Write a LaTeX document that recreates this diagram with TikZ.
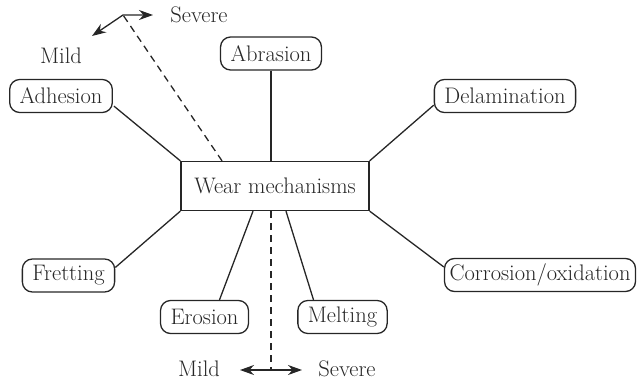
\documentclass[tikz,border=0pt]{standalone}
\usepackage{fontspec}
\usetikzlibrary{arrows.meta}
\begin{document}
\begin{tikzpicture}[x=1pt,y=-1pt,
  every node/.style={font=\fontsize{22.5}{26}\selectfont, text=black!85},
  mech/.style={draw=black!85, line width=1.3pt, rounded corners=10pt, minimum height=33pt, inner xsep=10pt, inner ysep=0pt},
  conn/.style={draw=black!85, line width=1.3pt},
  dsh/.style={draw=black!85, line width=1.3pt, dash pattern=on 7pt off 5pt},
  arr/.style={draw=black!85, line width=1.3pt, {Stealth[length=14pt,width=10pt]}-{Stealth[length=14pt,width=10pt]}}]
\useasboundingbox (0,0) rectangle (639,382);
\node[draw=black!85, line width=1.3pt, minimum width=188pt, minimum height=49pt] (W) at (275,186) {Wear mechanisms};
\node[mech] (Ab) at (271,53.5) {Abrasion};
\node[mech] (Ad) at (61,96) {Adhesion};
\node[mech] (De) at (505,96) {Delamination};
\node[mech] (Fr) at (68.5,275.5) {Fretting};
\node[mech] (Er) at (204.5,317) {Erosion};
\node[mech] (Me) at (342.5,317) {Melting};
\node[mech, inner xsep=5pt] (Co) at (540,275) {Corrosion/oxidation};
\node (mildT) at (61,56) {Mild};
\node (sevT) at (199,15) {Severe};
\node (mildB) at (199,369) {Mild};
\node (sevB) at (347,369) {Severe};
\coordinate (tA) at (92,36);
\coordinate (tB) at (123,15);
\coordinate (tC) at (153,15);
\coordinate (bA) at (240,370);
\coordinate (bB) at (271,370);
\coordinate (bC) at (302,370);
\draw[conn] (Ab.south) -- (Ab.south |- W.north);
\draw[conn] ([yshift=8pt]De.south west) -- (W.north east);
\draw[conn] ([xshift=1pt,yshift=7pt]Ad.south east) -- (W.north west);
\draw[conn] ([yshift=8pt]Fr.east) -- (W.south west);
\draw[conn] ([yshift=8pt]Co.west) -- (W.south east);
\draw[conn] ([xshift=15pt]Er.north) -- ([xshift=-22pt]W.south);
\draw[conn] ([xshift=-29pt]Me.north) -- ([xshift=11pt]W.south);
\draw[dsh] ([xshift=-4pt]W.south) -- (bB);
\draw[dsh] ([xshift=-53pt]W.north) -- (tB);
\draw[arr] (bA) -- (bC);
\draw[arr] (tA) -- (tB) -- (tC);
\end{tikzpicture}
\end{document}
